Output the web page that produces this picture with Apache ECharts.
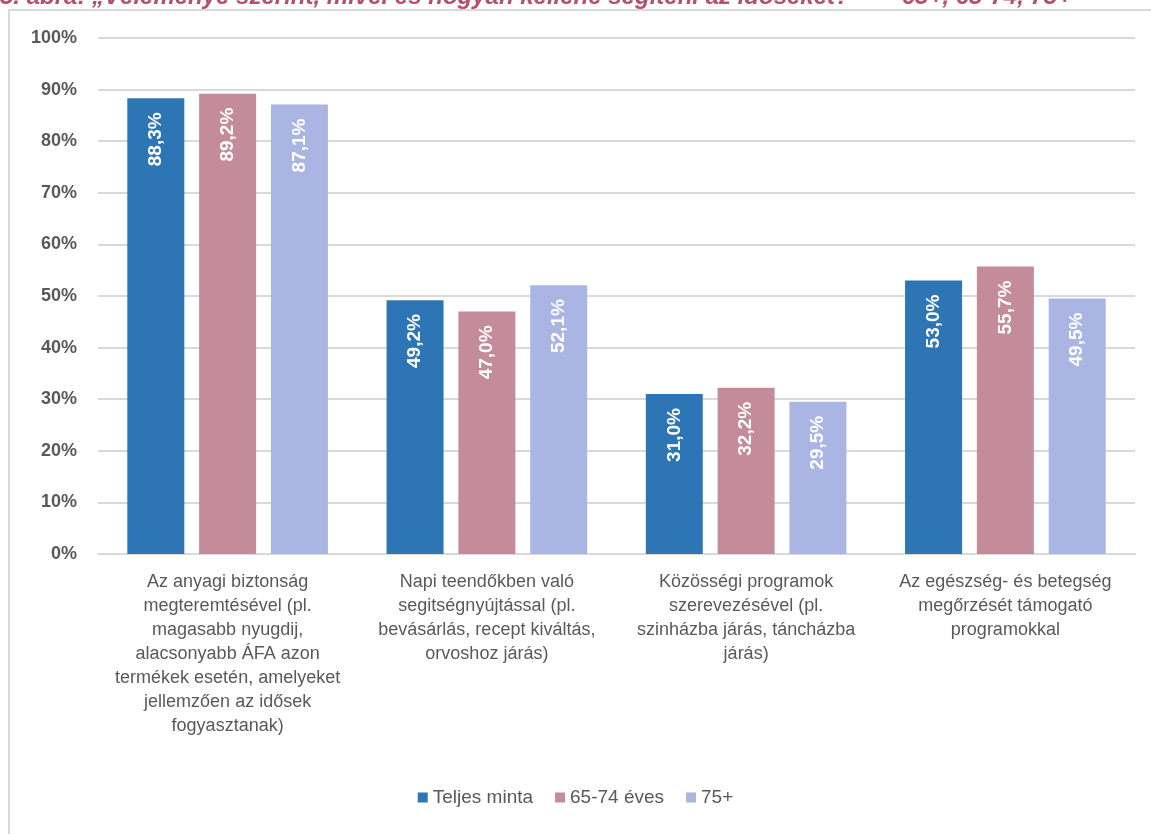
<!DOCTYPE html>
<html>
<head>
<meta charset="utf-8">
<script src="https://cdn.jsdelivr.net/npm/echarts@6/dist/echarts.min.js"></script>
<style>
  html, body { margin: 0; padding: 0; background: #ffffff; }
  #chart { width: 1151px; height: 834px; }
</style>
</head>
<body>
<div id="chart"></div>
<script>
// Survey answers: how should the elderly be helped (share of respondents)
const categories = [
  'Az anyagi biztonság\nmegteremtésével (pl.\nmagasabb nyugdij,\nalacsonyabb ÁFA azon\ntermékek esetén, amelyeket\njellemzően az idősek\nfogyasztanak)',
  'Napi teendőkben való\nsegitségnyújtással (pl.\nbevásárlás, recept kiváltás,\norvoshoz járás)',
  'Közösségi programok\nszerevezésével (pl.\nszinházba járás, táncházba\njárás)',
  'Az egészség- és betegség\nmegőrzését támogató\nprogramokkal'
];
const seriesNames = ['Teljes minta', '65-74 éves', '75+'];
const teljesMinta = [88.3, 49.2, 31.0, 53.0];
const kor6574 = [89.2, 47.0, 32.2, 55.7];
const kor75plus = [87.1, 52.1, 29.5, 49.5];
const yTicks = { min: 0, max: 100, interval: 10 };
const titleText = '5. ábra: „Véleménye szerint, mivel és hogyan kellene segíteni az időseket?”  –  65+, 65-74, 75+';

const colors = ['#2e75b6', '#c48b9a', '#aab5e4'];
const narrow = '"Liberation Sans Narrow", "Arial Narrow", "Liberation Sans", sans-serif';

const chart = echarts.init(document.getElementById('chart'), null, { renderer: 'canvas' });

function barSeries(name, data, color) {
  return {
    name: name,
    type: 'bar',
    data: data,
    barWidth: 57,
    barGap: '26%',
    itemStyle: { color: color },
    label: {
      show: true,
      position: 'insideTop',
      distance: 14,
      rotate: 90,
      align: 'right',
      verticalAlign: 'middle',
      color: '#ffffff',
      fontFamily: narrow,
      fontWeight: 'bold',
      fontSize: 19,
      formatter: p => p.value.toFixed(1).replace('.', ',') + '%'
    }
  };
}

chart.setOption({
  animation: false,
  backgroundColor: '#ffffff',
  graphic: [
    {
      type: 'rect',
      shape: { x: 9, y: 10, width: 1170, height: 860 },
      style: { fill: 'none', stroke: '#d9d9d9', lineWidth: 2 },
      z: -1
    },
    {
      type: 'text',
      left: 0,
      top: -15,
      style: {
        text: titleText,
        fill: '#b5506c',
        font: 'italic bold 24px ' + narrow
      }
    }
  ],
  legend: {
    data: seriesNames,
    bottom: 22,
    left: 'center',
    itemWidth: 10,
    itemHeight: 10,
    itemGap: 22,
    icon: 'rect',
    textStyle: { color: '#595959', fontSize: 19, fontFamily: narrow }
  },
  grid: { left: 98, right: 16, top: 38, bottom: 280, containLabel: false },
  xAxis: {
    type: 'category',
    data: categories,
    axisLine: { lineStyle: { color: '#d9d9d9', width: 2 } },
    axisTick: { show: false },
    axisLabel: {
      color: '#595959',
      fontFamily: narrow,
      fontSize: 18,
      lineHeight: 24,
      margin: 16,
      interval: 0
    }
  },
  yAxis: {
    type: 'value',
    min: yTicks.min,
    max: yTicks.max,
    interval: yTicks.interval,
    axisLine: { show: false },
    axisTick: { show: false },
    splitLine: { lineStyle: { color: '#d9d9d9', width: 2 } },
    axisLabel: {
      formatter: '{value}%',
      color: '#595959',
      fontFamily: narrow,
      fontWeight: 'bold',
      fontSize: 18,
      margin: 21
    }
  },
  series: [
    barSeries(seriesNames[0], teljesMinta, colors[0]),
    barSeries(seriesNames[1], kor6574, colors[1]),
    barSeries(seriesNames[2], kor75plus, colors[2])
  ]
});
</script>
</body>
</html>
